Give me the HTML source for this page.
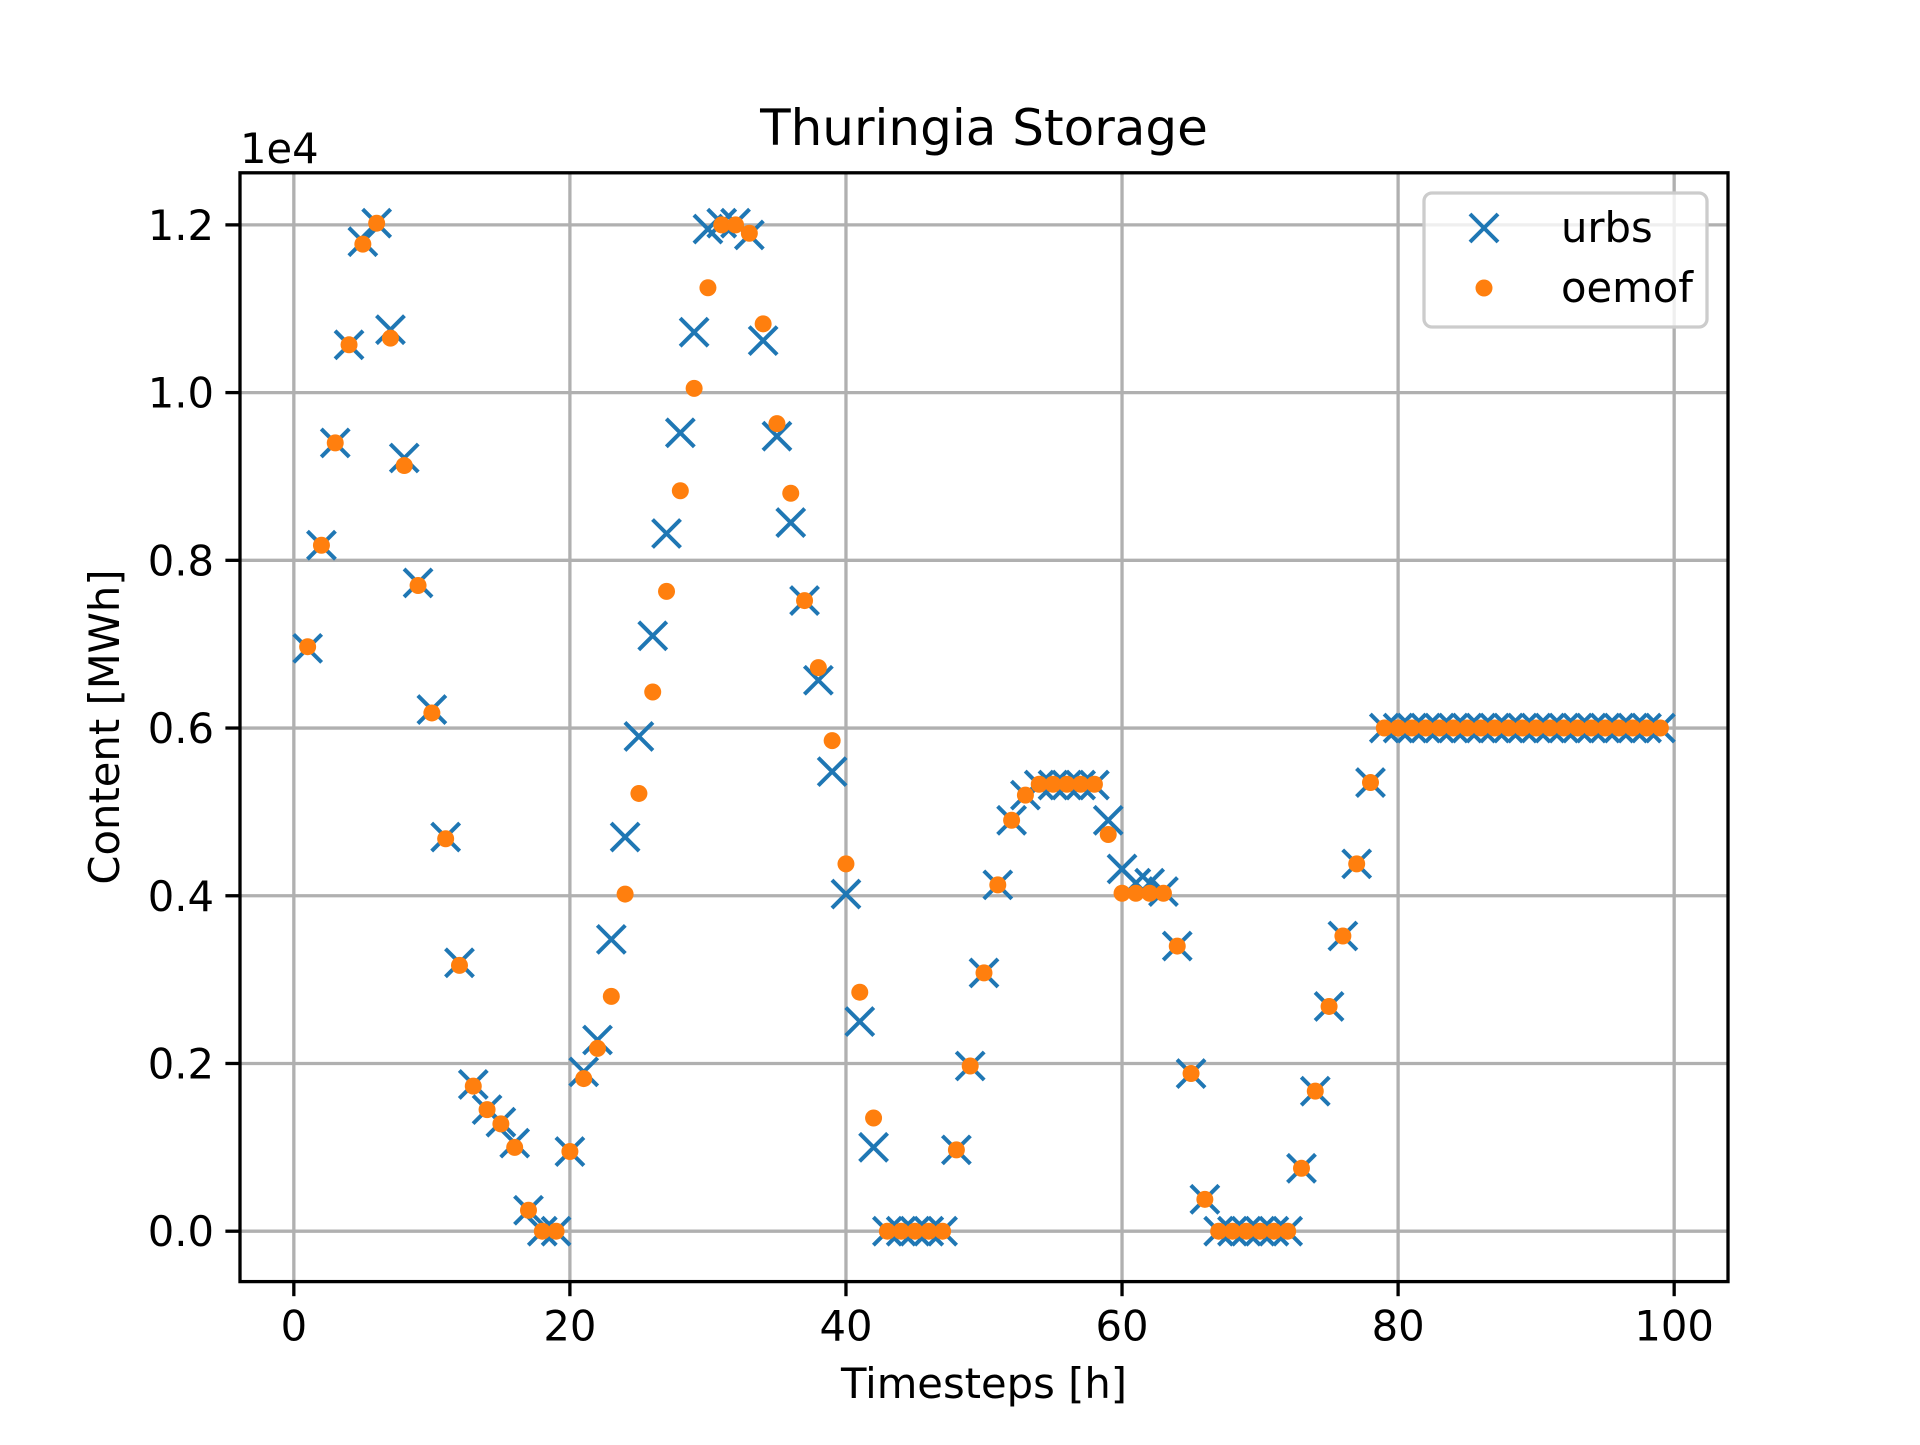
<!DOCTYPE html>
<html><head><meta charset="utf-8"><style>
body{margin:0;background:#fff;}
svg text{font-family:"DejaVu Sans","Liberation Sans",sans-serif;fill:#000;}
</style></head><body>
<svg id="chart" width="1920" height="1440" viewBox="0 0 1920 1440" xmlns="http://www.w3.org/2000/svg">
<rect width="1920" height="1440" fill="#fff"/>
<g id="grid"></g><g id="marks"></g><g id="axes"></g>
</svg>
<script>
const timesteps = Array.from({length:99},(_,i)=>i+1);
const urbs = [0.695,0.818,0.94,1.057,1.18,1.202,1.075,0.922,0.773,0.622,0.47,0.32,0.175,0.145,0.13,0.105,0.025,0,0,0.095,0.19,0.228,0.348,0.47,0.59,0.71,0.832,0.952,1.072,1.195,1.202,1.202,1.188,1.062,0.948,0.845,0.752,0.657,0.548,0.402,0.25,0.1,0,0,0,0,0,0.097,0.197,0.308,0.413,0.49,0.52,0.532,0.532,0.532,0.532,0.532,0.49,0.432,0.415,0.415,0.405,0.34,0.188,0.038,0,0,0,0,0,0,0.075,0.167,0.268,0.352,0.438,0.535,0.6,0.6,0.6,0.6,0.6,0.6,0.6,0.6,0.6,0.6,0.6,0.6,0.6,0.6,0.6,0.6,0.6,0.6,0.6,0.6,0.6];
const oemof = [0.697,0.818,0.94,1.057,1.177,1.202,1.065,0.913,0.77,0.618,0.468,0.317,0.173,0.145,0.128,0.1,0.025,0,0,0.095,0.182,0.218,0.28,0.402,0.522,0.643,0.763,0.883,1.005,1.125,1.2,1.2,1.19,1.082,0.963,0.88,0.752,0.672,0.585,0.438,0.285,0.135,0,0,0,0,0,0.097,0.197,0.308,0.413,0.49,0.52,0.533,0.533,0.533,0.533,0.533,0.473,0.403,0.403,0.403,0.403,0.34,0.188,0.038,0,0,0,0,0,0,0.075,0.167,0.268,0.352,0.438,0.535,0.6,0.6,0.6,0.6,0.6,0.6,0.6,0.6,0.6,0.6,0.6,0.6,0.6,0.6,0.6,0.6,0.6,0.6,0.6,0.6,0.6];
const xTicks = [0,20,40,60,80,100];
const yTicks = [0,0.2,0.4,0.6,0.8,1.0,1.2];
const yTickLabels = ["0.0","0.2","0.4","0.6","0.8","1.0","1.2"];

const L=240,R=1728,T=172.8,B=1281.6;
const xmin=-3.9,xmax=103.9,ymin=-0.0601,ymax=1.2621;
const sx=v=>L+(v-xmin)/(xmax-xmin)*(R-L);
const sy=v=>B-(v-ymin)/(ymax-ymin)*(B-T);
const NS="http://www.w3.org/2000/svg";
function mk(tag,attrs,parent){const e=document.createElementNS(NS,tag);for(const k in attrs)e.setAttribute(k,attrs[k]);parent.appendChild(e);return e;}
const grid=document.getElementById('grid'),marks=document.getElementById('marks'),axes=document.getElementById('axes');

xTicks.forEach(t=>{
  const g=mk('line',{x1:sx(t),x2:sx(t),y1:T,y2:B,stroke:'#b0b0b0','stroke-width':3.3},grid);
  
  
  mk('line',{x1:sx(t),x2:sx(t),y1:B,y2:B+14.6,stroke:'#000','stroke-width':3.3},axes);
  const tx=mk('text',{x:sx(t),y:B+59,'font-size':41.7,'text-anchor':'middle'},axes);
  tx.textContent=t;
  
  
});
yTicks.forEach((t,i)=>{
  const g=mk('line',{x1:L,x2:R,y1:sy(t),y2:sy(t),stroke:'#b0b0b0','stroke-width':3.3},grid);
  
  
  mk('line',{x1:L-14.6,x2:L,y1:sy(t),y2:sy(t),stroke:'#000','stroke-width':3.3},axes);
  const tx=mk('text',{x:L-26,y:sy(t)+15,'font-size':41.7,'text-anchor':'end'},axes);
  tx.textContent=yTickLabels[i];
  
  
});
const d=14;
timesteps.forEach((t,i)=>{
  const x=sx(t),y=sy(urbs[i]);
  const p=mk('path',{d:`M${x-d},${y-d}L${x+d},${y+d}M${x-d},${y+d}L${x+d},${y-d}`,stroke:'#1f77b4','stroke-width':4,fill:'none'},marks);
  
  
});
timesteps.forEach((t,i)=>{
  const c=mk('circle',{cx:sx(t),cy:sy(oemof[i]),r:8.5,fill:'#ff7f0e'},marks);
  
  
});
</script>
<svg style="position:absolute;left:0;top:0" width="1920" height="1440" xmlns="http://www.w3.org/2000/svg">
<rect x="240" y="172.8" width="1488" height="1108.8" fill="none" stroke="#000" stroke-width="3.3"/>
<text x="984" y="145" font-size="50" text-anchor="middle" font-family="DejaVu Sans, Liberation Sans, sans-serif">Thuringia Storage</text>
<text x="240" y="163" font-size="41.7" font-family="DejaVu Sans, Liberation Sans, sans-serif">1e4</text>
<text x="984" y="1398" font-size="41.7" text-anchor="middle" font-family="DejaVu Sans, Liberation Sans, sans-serif">Timesteps [h]</text>
<text transform="translate(119,727) rotate(-90)" font-size="41.7" text-anchor="middle" font-family="DejaVu Sans, Liberation Sans, sans-serif">Content [MWh]</text>
<g>
<rect x="1424" y="193" width="283" height="134" rx="8" fill="#fff" fill-opacity="0.8" stroke="#cccccc" stroke-width="3.3"/>
<path d="M1470,214L1498,242M1470,242L1498,214" stroke="#1f77b4" stroke-width="4"/>
<text x="1561" y="242" font-size="41.7" font-family="DejaVu Sans, Liberation Sans, sans-serif">urbs</text>
<circle cx="1484" cy="288" r="8.5" fill="#ff7f0e"/>
<text x="1561" y="302" font-size="41.7" font-family="DejaVu Sans, Liberation Sans, sans-serif">oemof</text>
</g>
</svg>
</body></html>
